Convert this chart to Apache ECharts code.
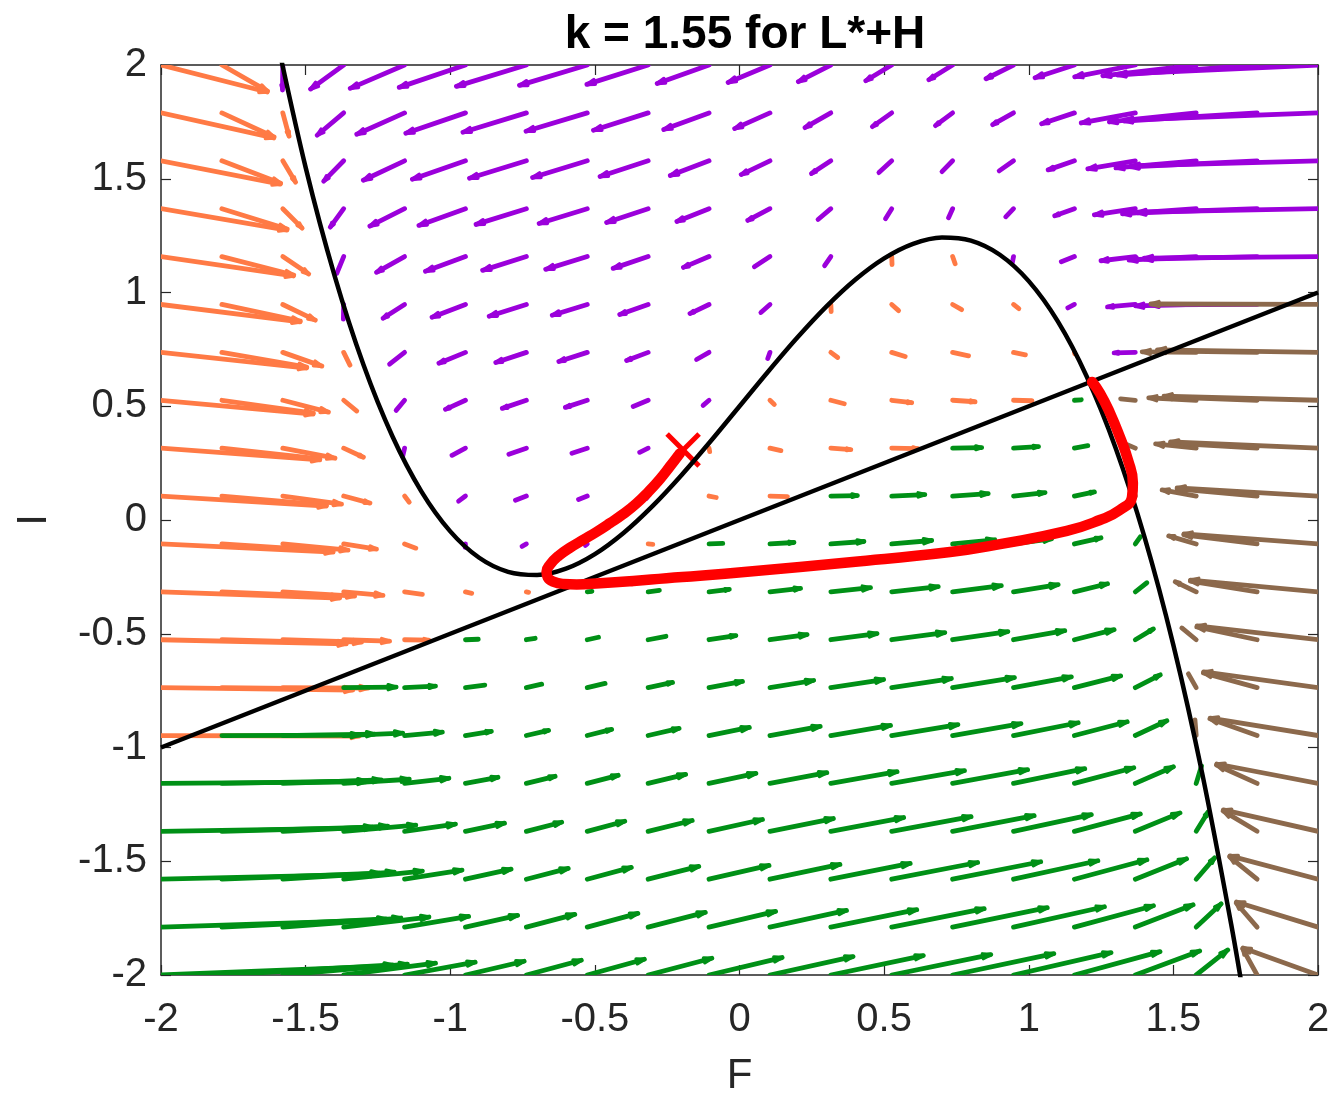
<!DOCTYPE html>
<html>
<head>
<meta charset="utf-8">
<script src="https://cdn.jsdelivr.net/npm/echarts@6/dist/echarts.min.js"></script>
<style>
  html, body { margin: 0; padding: 0; background: #fff; }
  #chart { width: 1332px; height: 1095px; }
</style>
</head>
<body>
<div id="chart"></div>
<script>
// quiver grid (20 x 20), rows go from I = 2 down to I = -2
var gridF = [-2, -1.7895, -1.5789, -1.3684, -1.1579, -0.9474, -0.7368, -0.5263, -0.3158, -0.1053,
  0.1053, 0.3158, 0.5263, 0.7368, 0.9474, 1.1579, 1.3684, 1.5789, 1.7895, 2];
var gridI = [2, 1.7895, 1.5789, 1.3684, 1.1579, 0.9474, 0.7368, 0.5263, 0.3158, 0.1053,
  -0.1053, -0.3158, -0.5263, -0.7368, -0.9474, -1.1579, -1.3684, -1.5789, -1.7895, -2];

// dF/dt at each grid point (row = I, column = F)
var fieldU = [
  [3.40, 1.46, -0.01, -1.06, -1.74, -2.12, -2.24, -2.17, -1.96, -1.66, -1.34, -1.04, -0.83, -0.76, -0.88, -1.26, -1.94, -2.99, -4.46, -6.40],
  [3.61, 1.67, 0.20, -0.85, -1.53, -1.91, -2.03, -1.96, -1.75, -1.45, -1.13, -0.83, -0.62, -0.55, -0.67, -1.05, -1.73, -2.78, -4.25, -6.19],
  [3.82, 1.88, 0.41, -0.64, -1.32, -1.70, -1.82, -1.75, -1.54, -1.24, -0.92, -0.62, -0.41, -0.34, -0.46, -0.84, -1.52, -2.57, -4.04, -5.98],
  [4.03, 2.09, 0.62, -0.43, -1.11, -1.49, -1.61, -1.54, -1.33, -1.03, -0.71, -0.41, -0.20, -0.13, -0.25, -0.63, -1.31, -2.36, -3.82, -5.77],
  [4.24, 2.30, 0.83, -0.22, -0.90, -1.28, -1.40, -1.33, -1.12, -0.82, -0.50, -0.20, 0.01, 0.08, -0.04, -0.42, -1.10, -2.15, -3.61, -5.56],
  [4.45, 2.51, 1.04, -0.01, -0.69, -1.07, -1.19, -1.12, -0.91, -0.61, -0.29, 0.01, 0.22, 0.29, 0.17, -0.21, -0.89, -1.94, -3.40, -5.35],
  [4.66, 2.72, 1.25, 0.20, -0.48, -0.85, -0.98, -0.91, -0.69, -0.40, -0.07, 0.22, 0.43, 0.51, 0.38, 0.01, -0.68, -1.73, -3.19, -5.14],
  [4.87, 2.93, 1.46, 0.42, -0.27, -0.64, -0.77, -0.70, -0.48, -0.19, 0.14, 0.43, 0.64, 0.72, 0.59, 0.22, -0.47, -1.52, -2.98, -4.93],
  [5.08, 3.14, 1.67, 0.63, -0.06, -0.43, -0.56, -0.49, -0.27, 0.02, 0.35, 0.64, 0.85, 0.93, 0.80, 0.43, -0.26, -1.30, -2.77, -4.72],
  [5.29, 3.35, 1.88, 0.84, 0.15, -0.22, -0.35, -0.28, -0.06, 0.23, 0.56, 0.85, 1.06, 1.14, 1.01, 0.64, -0.05, -1.09, -2.56, -4.51],
  [5.51, 3.56, 2.09, 1.05, 0.36, -0.01, -0.14, -0.06, 0.15, 0.44, 0.77, 1.06, 1.28, 1.35, 1.22, 0.85, 0.16, -0.88, -2.35, -4.29],
  [5.72, 3.77, 2.30, 1.26, 0.57, 0.20, 0.07, 0.15, 0.36, 0.65, 0.98, 1.27, 1.49, 1.56, 1.43, 1.06, 0.37, -0.67, -2.14, -4.08],
  [5.93, 3.98, 2.52, 1.47, 0.78, 0.41, 0.28, 0.36, 0.57, 0.86, 1.19, 1.48, 1.70, 1.77, 1.64, 1.27, 0.58, -0.46, -1.93, -3.87],
  [6.14, 4.19, 2.73, 1.68, 0.99, 0.62, 0.49, 0.57, 0.78, 1.07, 1.40, 1.69, 1.91, 1.98, 1.85, 1.48, 0.80, -0.25, -1.72, -3.66],
  [6.35, 4.40, 2.94, 1.89, 1.21, 0.83, 0.71, 0.78, 0.99, 1.29, 1.61, 1.91, 2.12, 2.19, 2.07, 1.69, 1.01, -0.04, -1.51, -3.45],
  [6.56, 4.61, 3.15, 2.10, 1.42, 1.04, 0.92, 0.99, 1.20, 1.50, 1.82, 2.12, 2.33, 2.40, 2.28, 1.90, 1.22, 0.17, -1.30, -3.24],
  [6.77, 4.82, 3.36, 2.31, 1.63, 1.25, 1.13, 1.20, 1.41, 1.71, 2.03, 2.33, 2.54, 2.61, 2.49, 2.11, 1.43, 0.38, -1.09, -3.03],
  [6.98, 5.04, 3.57, 2.52, 1.84, 1.46, 1.34, 1.41, 1.62, 1.92, 2.24, 2.54, 2.75, 2.82, 2.70, 2.32, 1.64, 0.59, -0.88, -2.82],
  [7.19, 5.25, 3.78, 2.73, 2.05, 1.67, 1.55, 1.62, 1.83, 2.13, 2.45, 2.75, 2.96, 3.03, 2.91, 2.53, 1.85, 0.80, -0.67, -2.61],
  [7.40, 5.46, 3.99, 2.94, 2.26, 1.88, 1.76, 1.83, 2.04, 2.34, 2.66, 2.96, 3.17, 3.24, 3.12, 2.74, 2.06, 1.01, -0.46, -2.40]
];

// dI/dt at each grid point
var fieldV = [
  [-1.10, -1.06, -1.02, -0.98, -0.95, -0.91, -0.87, -0.83, -0.79, -0.75, -0.71, -0.68, -0.64, -0.60, -0.56, -0.52, -0.48, -0.44, -0.41, -0.37],
  [-1.02, -0.98, -0.95, -0.91, -0.87, -0.83, -0.79, -0.75, -0.71, -0.68, -0.64, -0.60, -0.56, -0.52, -0.48, -0.44, -0.41, -0.37, -0.33, -0.29],
  [-0.95, -0.91, -0.87, -0.83, -0.79, -0.75, -0.71, -0.68, -0.64, -0.60, -0.56, -0.52, -0.48, -0.44, -0.41, -0.37, -0.33, -0.29, -0.25, -0.21],
  [-0.87, -0.83, -0.79, -0.75, -0.71, -0.68, -0.64, -0.60, -0.56, -0.52, -0.48, -0.44, -0.41, -0.37, -0.33, -0.29, -0.25, -0.21, -0.17, -0.14],
  [-0.79, -0.75, -0.71, -0.68, -0.64, -0.60, -0.56, -0.52, -0.48, -0.44, -0.41, -0.37, -0.33, -0.29, -0.25, -0.21, -0.17, -0.14, -0.10, -0.06],
  [-0.71, -0.68, -0.64, -0.60, -0.56, -0.52, -0.48, -0.44, -0.41, -0.37, -0.33, -0.29, -0.25, -0.21, -0.17, -0.14, -0.10, -0.06, -0.02, 0.02],
  [-0.64, -0.60, -0.56, -0.52, -0.48, -0.44, -0.41, -0.37, -0.33, -0.29, -0.25, -0.21, -0.17, -0.14, -0.10, -0.06, -0.02, 0.02, 0.06, 0.10],
  [-0.56, -0.52, -0.48, -0.44, -0.41, -0.37, -0.33, -0.29, -0.25, -0.21, -0.17, -0.14, -0.10, -0.06, -0.02, 0.02, 0.06, 0.10, 0.14, 0.17],
  [-0.48, -0.44, -0.41, -0.37, -0.33, -0.29, -0.25, -0.21, -0.17, -0.14, -0.10, -0.06, -0.02, 0.02, 0.06, 0.10, 0.14, 0.17, 0.21, 0.25],
  [-0.41, -0.37, -0.33, -0.29, -0.25, -0.21, -0.17, -0.14, -0.10, -0.06, -0.02, 0.02, 0.06, 0.10, 0.14, 0.17, 0.21, 0.25, 0.29, 0.33],
  [-0.33, -0.29, -0.25, -0.21, -0.17, -0.14, -0.10, -0.06, -0.02, 0.02, 0.06, 0.10, 0.14, 0.17, 0.21, 0.25, 0.29, 0.33, 0.37, 0.41],
  [-0.25, -0.21, -0.17, -0.14, -0.10, -0.06, -0.02, 0.02, 0.06, 0.10, 0.14, 0.17, 0.21, 0.25, 0.29, 0.33, 0.37, 0.41, 0.44, 0.48],
  [-0.17, -0.14, -0.10, -0.06, -0.02, 0.02, 0.06, 0.10, 0.14, 0.17, 0.21, 0.25, 0.29, 0.33, 0.37, 0.41, 0.44, 0.48, 0.52, 0.56],
  [-0.10, -0.06, -0.02, 0.02, 0.06, 0.10, 0.14, 0.17, 0.21, 0.25, 0.29, 0.33, 0.37, 0.41, 0.44, 0.48, 0.52, 0.56, 0.60, 0.64],
  [-0.02, 0.02, 0.06, 0.10, 0.14, 0.17, 0.21, 0.25, 0.29, 0.33, 0.37, 0.41, 0.44, 0.48, 0.52, 0.56, 0.60, 0.64, 0.68, 0.71],
  [0.06, 0.10, 0.14, 0.17, 0.21, 0.25, 0.29, 0.33, 0.37, 0.41, 0.44, 0.48, 0.52, 0.56, 0.60, 0.64, 0.68, 0.71, 0.75, 0.79],
  [0.14, 0.17, 0.21, 0.25, 0.29, 0.33, 0.37, 0.41, 0.44, 0.48, 0.52, 0.56, 0.60, 0.64, 0.68, 0.71, 0.75, 0.79, 0.83, 0.87],
  [0.21, 0.25, 0.29, 0.33, 0.37, 0.41, 0.44, 0.48, 0.52, 0.56, 0.60, 0.64, 0.68, 0.71, 0.75, 0.79, 0.83, 0.87, 0.91, 0.95],
  [0.29, 0.33, 0.37, 0.41, 0.44, 0.48, 0.52, 0.56, 0.60, 0.64, 0.68, 0.71, 0.75, 0.79, 0.83, 0.87, 0.91, 0.95, 0.98, 1.02],
  [0.37, 0.41, 0.44, 0.48, 0.52, 0.56, 0.60, 0.64, 0.68, 0.71, 0.75, 0.79, 0.83, 0.87, 0.91, 0.95, 0.98, 1.02, 1.06, 1.10]
];

// F-nullcline (cubic)
var cubicF = [-1.6, -1.5, -1.4, -1.3, -1.2, -1.1, -1.0, -0.9, -0.8, -0.7, -0.6, -0.5, -0.4, -0.3, -0.2, -0.1, 0,
  0.1, 0.2, 0.3, 0.4, 0.5, 0.6, 0.7, 0.8, 0.9, 1.0, 1.1, 1.2, 1.3, 1.4, 1.5, 1.6, 1.7, 1.75];
var cubicI = [2.116, 1.55, 1.074, 0.682, 0.368, 0.126, -0.05, -0.166, -0.228, -0.242, -0.214, -0.15, -0.056, 0.062, 0.198, 0.346, 0.5,
  0.654, 0.802, 0.938, 1.056, 1.15, 1.214, 1.242, 1.228, 1.166, 1.05, 0.874, 0.632, 0.318, -0.074, -0.55, -1.116, -1.778, -2.147];

// I-nullcline (straight line)
var lineF = [-2, 2];
var lineI = [-1, 1];

// red trajectory
var trajF = [-0.206, -0.240, -0.275, -0.315, -0.357, -0.402, -0.448, -0.494, -0.540, -0.586, -0.626, -0.655, -0.667,
  -0.663, -0.644, -0.609, -0.563, -0.482, -0.367, -0.252, -0.137, 0.036, 0.382, 0.728, 0.901, 1.132, 1.246, 1.315,
  1.357, 1.360, 1.343, 1.315, 1.281, 1.246, 1.219];
var trajI = [0.293, 0.236, 0.180, 0.124, 0.072, 0.026, -0.014, -0.052, -0.087, -0.122, -0.158, -0.196, -0.227,
  -0.252, -0.271, -0.281, -0.283, -0.278, -0.268, -0.256, -0.245, -0.226, -0.186, -0.141, -0.106, -0.048, 0.000, 0.044,
  0.101, 0.163, 0.264, 0.365, 0.470, 0.558, 0.607];

var startPoint = [-0.195, 0.308];

var quiverScale = 0.108;
var font = '"Liberation Sans", Helvetica, Arial, sans-serif';
var ink = '#262626';
var colOrange = '#ff7a45';
var colPurple = '#9b00db';
var colGreen = '#009016';
var colBrown = '#8c694c';

function zip(a, b) { return a.map(function (v, k) { return [v, b[k]]; }); }

var arrowData = [];
gridI.forEach(function (iv, r) {
  gridF.forEach(function (fv, c) {
    arrowData.push([fv, iv, fieldU[r][c], fieldV[r][c]]);
  });
});

function arrowColor(u, v) {
  if (u >= 0 && v < 0) return colOrange;
  if (u < 0 && v < 0) return colPurple;
  if (u >= 0) return colGreen;
  return colBrown;
}

function renderArrow(params, api) {
  var f = api.value(0), i = api.value(1), u = api.value(2), v = api.value(3);
  var p0 = api.coord([f, i]);
  var p1 = api.coord([f + quiverScale * u, i + quiverScale * v]);
  var dx = p1[0] - p0[0], dy = p1[1] - p0[1];
  var len = Math.sqrt(dx * dx + dy * dy);
  var color = arrowColor(u, v);
  var children = [{
    type: 'line',
    shape: { x1: p0[0], y1: p0[1], x2: p1[0], y2: p1[1] },
    style: { stroke: color, lineWidth: 4.8, lineCap: 'round' }
  }];
  if (len > 20) {
    var hl = Math.min(8, len * 0.2), hw = hl * 0.3;
    var ux = dx / len, uy = dy / len;
    var bx = p1[0] - ux * hl, by = p1[1] - uy * hl;
    children.push({
      type: 'polyline',
      shape: { points: [[bx - uy * hw, by + ux * hw], [p1[0], p1[1]], [bx + uy * hw, by - ux * hw]] },
      style: { stroke: color, lineWidth: 3.5, fill: null, lineJoin: 'round', lineCap: 'round' }
    });
  }
  return { type: 'group', children: children };
}

function renderCross(params, api) {
  var p = api.coord([api.value(0), api.value(1)]);
  var h = 16;
  return {
    type: 'group',
    children: [
      { type: 'line', shape: { x1: p[0] - h, y1: p[1] - h, x2: p[0] + h, y2: p[1] + h }, style: { stroke: '#ff0000', lineWidth: 5 } },
      { type: 'line', shape: { x1: p[0] - h, y1: p[1] + h, x2: p[0] + h, y2: p[1] - h }, style: { stroke: '#ff0000', lineWidth: 5 } }
    ]
  };
}

function axisBase(show) {
  return {
    type: 'value', min: -2, max: 2, interval: 0.5,
    axisLine: { show: true, onZero: false, lineStyle: { color: ink, width: 1.5 } },
    axisTick: { show: true, inside: true, length: 10, lineStyle: { color: ink, width: 1.2 } },
    axisLabel: { show: show, fontSize: 40, color: ink, fontFamily: font },
    splitLine: { show: false }
  };
}

var xBottom = axisBase(true);
xBottom.name = 'F';
xBottom.nameLocation = 'middle';
xBottom.nameGap = 80;
xBottom.nameTextStyle = { fontSize: 42, color: ink, fontFamily: font };
xBottom.axisLabel.margin = 25;
var xTop = axisBase(false);
xTop.position = 'top';

var yLeft = axisBase(true);
yLeft.name = 'I';
yLeft.nameLocation = 'middle';
yLeft.nameGap = 106;
yLeft.nameTextStyle = { fontSize: 42, color: ink, fontFamily: font };
yLeft.axisLabel.margin = 14;
var yRight = axisBase(false);
yRight.position = 'right';

var chart = echarts.init(document.getElementById('chart'), null, { renderer: 'canvas' });
chart.setOption({
  animation: false,
  backgroundColor: '#ffffff',
  title: {
    text: 'k = 1.55 for L*+H',
    left: 740,
    textAlign: 'center',
    top: 7,
    textStyle: { fontSize: 46, fontWeight: 'bold', color: '#000', fontFamily: font }
  },
  grid: { left: 161, right: 14, top: 65, bottom: 120, containLabel: false, outerBoundsMode: 'none' },
  xAxis: [xBottom, xTop],
  yAxis: [yLeft, yRight],
  series: [
    {
      type: 'custom',
      xAxisIndex: 0, yAxisIndex: 0,
      clip: true,
      data: arrowData,
      renderItem: renderArrow,
      silent: true
    },
    {
      type: 'line',
      data: zip(cubicF, cubicI),
      smooth: 0.3,
      showSymbol: false,
      clip: true,
      lineStyle: { color: '#000', width: 4.5 },
      silent: true
    },
    {
      type: 'line',
      data: zip(lineF, lineI),
      showSymbol: false,
      clip: true,
      lineStyle: { color: '#000', width: 4.5 },
      silent: true
    },
    {
      type: 'line',
      data: zip(trajF, trajI),
      smooth: 0.5,
      showSymbol: false,
      clip: true,
      lineStyle: { color: '#ff0000', width: 10.5, cap: 'round', join: 'round' },
      silent: true
    },
    {
      type: 'custom',
      data: [startPoint],
      renderItem: renderCross,
      silent: true
    }
  ]
});
window.addEventListener('resize', function () { chart.resize(); });
</script>
</body>
</html>
